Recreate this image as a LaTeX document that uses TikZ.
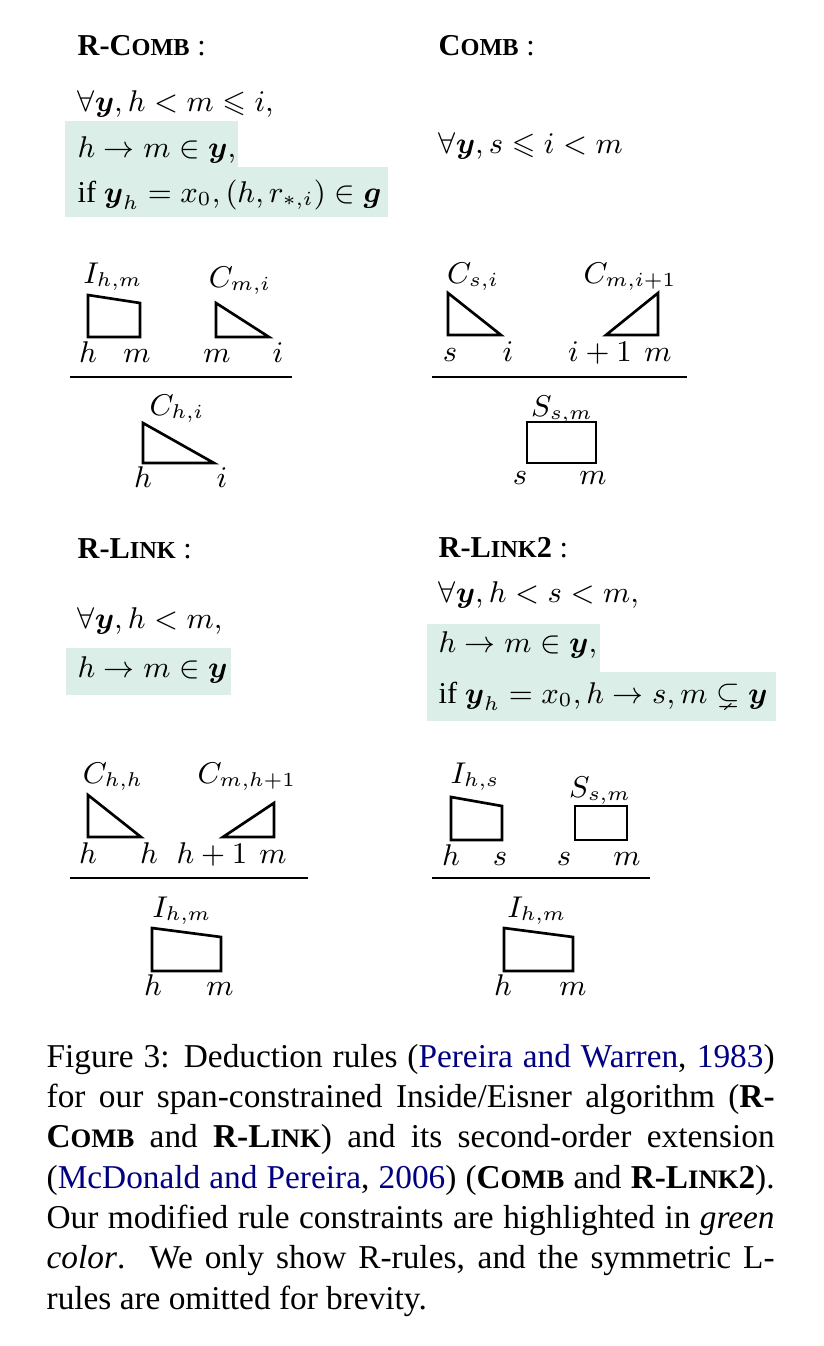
\documentclass[tikz,border=0pt]{standalone}
\usepackage{amsmath,amssymb}
\usepackage[no-math]{fontspec}
\setmainfont{Liberation Serif}
\usepackage{xcolor}
\definecolor{hl}{RGB}{219,239,232}
\definecolor{linkblue}{rgb}{0,0,0.5}
\newcommand\fsc[2]{#1{\fontsize{8}{9.6}\selectfont #2}}
\newcommand\hsc[2]{#1{\fontsize{7.3}{9}\selectfont #2}}
\newcommand\by{\boldsymbol{y}}
\newcommand\capline[1]{\makebox[218.4pt][s]{#1}}
\begin{document}
\begin{tikzpicture}[x=0.3pt,y=-0.3pt,
  txt/.style={inner sep=0pt, anchor=base west, font=\fontsize{9.1}{11}\selectfont},
  captxt/.style={inner sep=0pt, anchor=base west, font=\fontsize{10}{12}\selectfont},
  lab/.style={inner sep=0pt, anchor=base, font=\fontsize{8.9}{11}\selectfont},
  shp/.style={line width=0.8pt, line join=miter},
  rulebar/.style={line width=0.35pt},
  hlbox/.style={fill=hl, draw=none}]
\fill[white] (0,0) rectangle (824,1346);
\useasboundingbox (0,0) rectangle (824,1346);

% ---------------- R-COMB ----------------
\fill[hlbox] (65,121) rectangle (238,167);
\fill[hlbox] (65,167) rectangle (388,217);
\node[txt] (rcT) at (77,55) {\textbf{R-\hsc{C}{OMB}} :};
\node[txt] (rc1) at (77,111) {$\forall\by, h < m \leqslant i,$};
\node[txt] (rc2) at (77,157) {$h \rightarrow m \in \by,$};
\node[txt] (rc3) at (77,202) {if $\by_h = x_0, (h, r_{\ast,i}) \in \boldsymbol{g}$};

\draw[shp] (88,337) -- (88,295) -- (140,303) -- (140,337) -- cycle;
\node[lab] (rcI) at (113,283) {$I_{h,m}$};
\node[lab] (rch1) at (88,362) {$h$};
\node[lab] (rcm1) at (137,362) {$m$};
\draw[shp] (216,303) -- (216,337) -- (269,337) -- cycle;
\node[lab] (rcC) at (240,287) {$C_{m,i}$};
\node[lab] (rcm2) at (217,362) {$m$};
\node[lab] (rci2) at (278,362) {$i$};
\draw[rulebar] (70,377) -- (292,377);
\node[lab] (rcC2) at (177,415) {$C_{h,i}$};
\draw[shp] (143,423) -- (143,463) -- (214,463) -- cycle;
\node[lab] (rch3) at (143,487) {$h$};
\node[lab] (rci3) at (222,487) {$i$};

% ---------------- COMB ----------------
\node[txt] (cT) at (438,55) {\textbf{\hsc{C}{OMB}} :};
\node[txt] (c1) at (438,153) {$\forall\by, s \leqslant i < m$};
\node[lab] (cC1) at (473,283) {$C_{s,i}$};
\draw[shp] (448,293) -- (448,335) -- (501,335) -- cycle;
\node[lab] (cs1) at (450,361) {$s$};
\node[lab] (ci1) at (508,361) {$i$};
\node[lab] (cC2) at (630,283) {$C_{m,i+1}$};
\draw[shp] (658,293) -- (658,335) -- (606,335) -- cycle;
\node[lab] (ci2) at (600,361) {$i+1$};
\node[lab] (cm2) at (658,361) {$m$};
\draw[rulebar] (432,377) -- (687,377);
\node[lab] (cS) at (562,416) {$S_{s,m}$};
\draw[shp] (527,422) rectangle (596,463);
\node[lab] (cs3) at (520,484) {$s$};
\node[lab] (cm3) at (593,484) {$m$};

% ---------------- R-LINK ----------------
\fill[hlbox] (66,648) rectangle (231,695);
\node[txt] (rlT) at (77,558) {\textbf{R-\hsc{L}{INK}} :};
\node[txt] (rl1) at (77,628) {$\forall\by, h < m,$};
\node[txt] (rl2) at (77,677) {$h \rightarrow m \in \by$};
\node[lab] (rlC1) at (113,783) {$C_{h,h}$};
\draw[shp] (88,795) -- (88,837) -- (141,837) -- cycle;
\node[lab] (rlh1) at (88,863) {$h$};
\node[lab] (rlh2) at (149,863) {$h$};
\node[lab] (rlC2) at (247,783) {$C_{m,h+1}$};
\draw[shp] (274,803) -- (274,837) -- (223,837) -- cycle;
\node[lab] (rlh3) at (212,863) {$h+1$};
\node[lab] (rlm3) at (273,863) {$m$};
\draw[rulebar] (70,878) -- (308,878);
\node[lab] (rlI) at (182,917) {$I_{h,m}$};
\draw[shp] (152,971) -- (152,928) -- (221,937) -- (221,971) -- cycle;
\node[lab] (rlh4) at (153,995) {$h$};
\node[lab] (rlm4) at (220,995) {$m$};

% ---------------- R-LINK2 ----------------
\fill[hlbox] (427,624) rectangle (600,672);
\fill[hlbox] (427,672) rectangle (776,721);
\node[txt] (r2T) at (438,557) {\textbf{R-\hsc{L}{INK}2} :};
\node[txt] (r21) at (438,602) {$\forall\by, h < s < m,$};
\node[txt] (r22) at (438,652) {$h \rightarrow m \in \by,$};
\node[txt] (r23) at (438,703) {if $\by_h = x_0, h \rightarrow s, m \subsetneq \by$};
\node[lab] (r2I1) at (475,783) {$I_{h,s}$};
\draw[shp] (451,840) -- (451,797) -- (502,806) -- (502,840) -- cycle;
\node[lab] (r2h1) at (451,865) {$h$};
\node[lab] (r2s1) at (500,865) {$s$};
\node[lab] (r2S) at (600,797) {$S_{s,m}$};
\draw[shp] (575,806) rectangle (627,840);
\node[lab] (r2s2) at (564,865) {$s$};
\node[lab] (r2m2) at (627,865) {$m$};
\draw[rulebar] (432,878) -- (650,878);
\node[lab] (r2I2) at (537,917) {$I_{h,m}$};
\draw[shp] (504,971) -- (504,928) -- (573,937) -- (573,971) -- cycle;
\node[lab] (r2h3) at (503,995) {$h$};
\node[lab] (r2m3) at (573,995) {$m$};

% ---------------- Caption ----------------
\node[captxt] (cap1) at (46,1067) {\capline{Figure 3: Deduction rules (\textcolor{linkblue}{Pereira and Warren}, \textcolor{linkblue}{1983})}};
\node[captxt] (cap2) at (46,1107) {\capline{for our span-constrained Inside/Eisner algorithm (\textbf{R-}}};
\node[captxt] (cap3) at (46,1147) {\capline{\textbf{\fsc{C}{OMB}} and \textbf{R-\fsc{L}{INK}}) and its second-order extension}};
\node[captxt] (cap4) at (46,1188) {\capline{(\textcolor{linkblue}{McDonald and Pereira}, \textcolor{linkblue}{2006}) (\textbf{\fsc{C}{OMB}} and \textbf{R-\fsc{L}{INK}2}).}};
\node[captxt] (cap5) at (46,1228) {\capline{Our modified rule constraints are highlighted in \textit{green}}};
\node[captxt] (cap6) at (46,1268) {\capline{\textit{color}.\ \ We only show R-rules, and the symmetric L-}};
\node[captxt] (cap7) at (46,1309) {rules are omitted for brevity.};
\end{tikzpicture}
\end{document}
